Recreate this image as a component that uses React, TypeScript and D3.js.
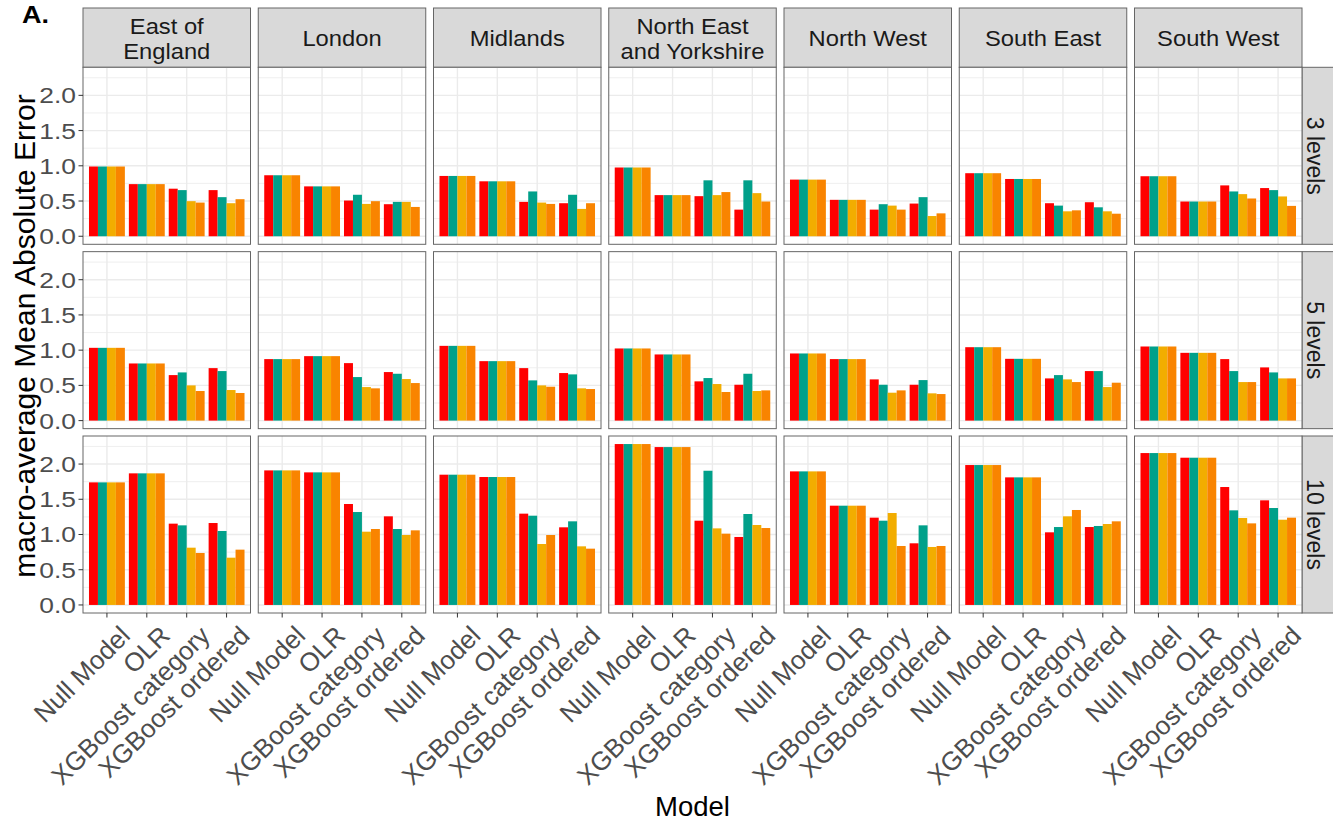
import React from "react";
import * as d3 from "d3";

// ---- data ----
const regions = [
  "East of England",
  "London",
  "Midlands",
  "North East and Yorkshire",
  "North West",
  "South East",
  "South West",
];
const regionStripLines = [
  ["East of", "England"],
  ["London"],
  ["Midlands"],
  ["North East", "and Yorkshire"],
  ["North West"],
  ["South East"],
  ["South West"],
];
const models = ["Null Model", "OLR", "XGBoost category", "XGBoost ordered"];
const levelLabels = ["3 levels", "5 levels", "10 levels"];
const seriesKeys = ["s1", "s2", "s3", "s4"];
const seriesColors = ["#FF0000", "#00A08A", "#F2AD00", "#F98400"];
const yTicks = [0, 0.5, 1.0, 1.5, 2.0];
const yMinorTicks = [0.25, 0.75, 1.25, 1.75, 2.25];

// values[region][model][series]
const levels3 = [
  [[0.99, 0.99, 0.99, 0.99], [0.74, 0.74, 0.74, 0.74], [0.675, 0.655, 0.498, 0.478], [0.655, 0.555, 0.469, 0.526]],
  [[0.866, 0.866, 0.866, 0.866], [0.708, 0.708, 0.708, 0.708], [0.507, 0.589, 0.459, 0.498], [0.455, 0.488, 0.488, 0.416]],
  [[0.856, 0.856, 0.856, 0.856], [0.78, 0.78, 0.78, 0.78], [0.488, 0.636, 0.478, 0.459], [0.469, 0.589, 0.388, 0.469]],
  [[0.976, 0.976, 0.976, 0.976], [0.584, 0.584, 0.584, 0.584], [0.569, 0.794, 0.584, 0.627], [0.378, 0.794, 0.612, 0.493]],
  [[0.804, 0.804, 0.804, 0.804], [0.517, 0.517, 0.517, 0.517], [0.378, 0.455, 0.435, 0.378], [0.464, 0.555, 0.287, 0.325]],
  [[0.895, 0.895, 0.895, 0.895], [0.813, 0.813, 0.813, 0.813], [0.469, 0.435, 0.354, 0.368], [0.483, 0.411, 0.354, 0.32]],
  [[0.852, 0.852, 0.852, 0.852], [0.493, 0.493, 0.493, 0.493], [0.722, 0.636, 0.598, 0.536], [0.684, 0.655, 0.565, 0.431]],
];
const levels5 = [
  [[1.033, 1.033, 1.033, 1.033], [0.811, 0.811, 0.811, 0.811], [0.646, 0.684, 0.5, 0.42], [0.745, 0.703, 0.434, 0.392]],
  [[0.873, 0.873, 0.873, 0.873], [0.915, 0.915, 0.915, 0.915], [0.816, 0.618, 0.476, 0.458], [0.689, 0.665, 0.59, 0.533]],
  [[1.061, 1.061, 1.061, 1.061], [0.844, 0.844, 0.844, 0.844], [0.745, 0.571, 0.5, 0.481], [0.675, 0.656, 0.458, 0.448]],
  [[1.024, 1.024, 1.024, 1.024], [0.939, 0.939, 0.939, 0.939], [0.557, 0.604, 0.519, 0.406], [0.509, 0.665, 0.42, 0.429]],
  [[0.953, 0.953, 0.953, 0.953], [0.873, 0.873, 0.873, 0.873], [0.585, 0.509, 0.396, 0.429], [0.509, 0.575, 0.387, 0.377]],
  [[1.042, 1.042, 1.042, 1.042], [0.877, 0.877, 0.877, 0.877], [0.599, 0.646, 0.585, 0.547], [0.703, 0.703, 0.476, 0.538]],
  [[1.052, 1.052, 1.052, 1.052], [0.962, 0.962, 0.962, 0.962], [0.873, 0.703, 0.547, 0.547], [0.755, 0.684, 0.599, 0.599]],
];
const levels10 = [
  [[1.74, 1.74, 1.74, 1.74], [1.868, 1.868, 1.868, 1.868], [1.154, 1.13, 0.813, 0.738], [1.163, 1.05, 0.671, 0.785]],
  [[1.91, 1.91, 1.91, 1.91], [1.882, 1.882, 1.882, 1.882], [1.433, 1.319, 1.04, 1.078], [1.258, 1.078, 0.993, 1.059]],
  [[1.849, 1.849, 1.849, 1.849], [1.816, 1.816, 1.816, 1.816], [1.296, 1.267, 0.865, 0.993], [1.102, 1.187, 0.832, 0.799]],
  [[2.284, 2.284, 2.284, 2.284], [2.241, 2.241, 2.241, 2.241], [1.196, 1.905, 1.087, 1.012], [0.965, 1.291, 1.135, 1.092]],
  [[1.896, 1.896, 1.896, 1.896], [1.409, 1.409, 1.409, 1.409], [1.239, 1.196, 1.305, 0.837], [0.875, 1.13, 0.823, 0.837]],
  [[1.986, 1.986, 1.986, 1.986], [1.811, 1.811, 1.811, 1.811], [1.031, 1.106, 1.258, 1.348], [1.106, 1.121, 1.149, 1.187]],
  [[2.156, 2.156, 2.156, 2.156], [2.09, 2.09, 2.09, 2.09], [1.674, 1.343, 1.234, 1.158], [1.485, 1.376, 1.21, 1.239]],
];
const levelData = [levels3, levels5, levels10];

// ---- layout ----
const W = 1333;
const H = 825;
const FONT = "'Liberation Sans', Arial, Helvetica, sans-serif";
const panelLeft0 = 83;
const panelPitchX = 175.25;
const panelW = 167.5;
const panelTop0 = 67.3;
const panelPitchY = 184.35;
const panelH = 177;
const stripTop = 8;
const stripRightW = 34;
const borderColor = "#666666";

export default function App() {
  const allVals = levelData.flat(3) as number[];
  const maxV = d3.max(allVals) as number;
  const y = d3
    .scaleLinear()
    .domain([-0.05 * maxV, 1.05 * maxV])
    .range([panelH, 0]);
  const x = d3
    .scaleBand<string>()
    .domain(models)
    .range([0, panelW])
    .paddingInner(0.1)
    .paddingOuter(0.15);
  const xs = d3.scaleBand<string>().domain(seriesKeys).range([0, x.bandwidth()]);
  const color = d3.scaleOrdinal<string, string>().domain(seriesKeys).range(seriesColors);

  const gridLast = panelTop0 + 2 * panelPitchY + panelH;
  const panelsRight = panelLeft0 + 6 * panelPitchX + panelW;

  return (
    <svg
      width={W}
      height={H}
      style={{ position: "absolute", left: 0, top: 0, background: "#fff" }}
      fontFamily={FONT}
    >
      <rect x={0} y={0} width={W} height={H} fill="#fff" />
      <text x={22} y={23} fontSize={24} fontWeight="bold" fill="#000" textLength={27} lengthAdjust="spacingAndGlyphs">
        A.
      </text>

      {/* column strips */}
      {regions.map((r, ci) => {
        const px = panelLeft0 + ci * panelPitchX;
        const lines = regionStripLines[ci];
        const baselines = lines.length === 2 ? [33.5, 58.7] : [46.3];
        return (
          <g key={r}>
            <rect
              x={px}
              y={stripTop}
              width={panelW}
              height={panelTop0 - stripTop}
              fill="#D9D9D9"
              stroke={borderColor}
              strokeWidth={1}
            />
            {lines.map((ln, li) => (
              <text
                key={li}
                transform={`translate(${px + panelW / 2},${baselines[li]}) scale(1.08,1)`}
                textAnchor="middle"
                fontSize={22}
                fill="#1A1A1A"
              >
                {ln}
              </text>
            ))}
          </g>
        );
      })}

      {/* row strips */}
      {levelLabels.map((lv, ri) => {
        const py = panelTop0 + ri * panelPitchY;
        return (
          <g key={lv}>
            <rect
              x={panelsRight}
              y={py}
              width={stripRightW}
              height={panelH}
              fill="#D9D9D9"
              stroke={borderColor}
              strokeWidth={1}
            />
            <text
              transform={`translate(${panelsRight + 5},${py + panelH / 2}) rotate(90)`}
              textAnchor="middle"
              fontSize={23}
              fill="#1A1A1A"
            >
              {lv}
            </text>
          </g>
        );
      })}

      {/* panels */}
      {levelData.map((lvl, ri) =>
        regions.map((r, ci) => {
          const px = panelLeft0 + ci * panelPitchX;
          const py = panelTop0 + ri * panelPitchY;
          const vals = lvl[ci];
          return (
            <g key={`${ri}-${ci}`} transform={`translate(${px},${py})`}>
              <rect x={0} y={0} width={panelW} height={panelH} fill="#fff" />
              {yMinorTicks.map((t) => (
                <line key={`m${t}`} x1={0} x2={panelW} y1={y(t)} y2={y(t)} stroke="#EBEBEB" strokeWidth={0.8} />
              ))}
              {yTicks.map((t) => (
                <line key={`M${t}`} x1={0} x2={panelW} y1={y(t)} y2={y(t)} stroke="#EBEBEB" strokeWidth={1.4} />
              ))}
              {models.map((m) => (
                <line
                  key={`v${m}`}
                  x1={(x(m) as number) + x.bandwidth() / 2}
                  x2={(x(m) as number) + x.bandwidth() / 2}
                  y1={0}
                  y2={panelH}
                  stroke="#EBEBEB"
                  strokeWidth={1.4}
                />
              ))}
              {models.map((m, mi) =>
                seriesKeys.map((s, si) => {
                  const v = vals[mi][si];
                  return (
                    <rect
                      key={`${m}-${s}`}
                      x={(x(m) as number) + (xs(s) as number)}
                      y={y(v)}
                      width={xs.bandwidth()}
                      height={y(0) - y(v)}
                      fill={color(s)}
                    />
                  );
                })
              )}
              <rect x={0} y={0} width={panelW} height={panelH} fill="none" stroke={borderColor} strokeWidth={1} />
            </g>
          );
        })
      )}

      {/* y axes */}
      {levelLabels.map((lv, ri) => {
        const py = panelTop0 + ri * panelPitchY;
        return (
          <g key={`ya${lv}`} transform={`translate(${panelLeft0},${py})`}>
            {yTicks.map((t) => (
              <g key={t}>
                <line x1={-4.5} x2={0} y1={y(t)} y2={y(t)} stroke="#333333" strokeWidth={1} />
                <text
                  transform={`translate(-7,${y(t)}) scale(1.2,1)`}
                  dy="0.36em"
                  textAnchor="end"
                  fontSize={22}
                  fill="#4D4D4D"
                >
                  {t.toFixed(1)}
                </text>
              </g>
            ))}
          </g>
        );
      })}

      {/* x axes */}
      {regions.map((r, ci) => {
        const px = panelLeft0 + ci * panelPitchX;
        return (
          <g key={`xa${r}`} transform={`translate(${px},${gridLast})`}>
            {models.map((m) => {
              const cx = (x(m) as number) + x.bandwidth() / 2;
              return (
                <g key={m}>
                  <line x1={cx} x2={cx} y1={0} y2={4.5} stroke="#333333" strokeWidth={1} />
                  <text
                    transform={`translate(${cx + 11.5},${11}) rotate(-45)`}
                    dy="0.72em"
                    textAnchor="end"
                    fontSize={26}
                    fill="#4D4D4D"
                  >
                    {m}
                  </text>
                </g>
              );
            })}
          </g>
        );
      })}

      {/* axis titles */}
      <text
        x={(panelLeft0 + panelsRight) / 2}
        y={816}
        textAnchor="middle"
        fontSize={27.5}
        fill="#000"
      >
        Model
      </text>
      <text
        transform={`translate(35,336) rotate(-90)`}
        textAnchor="middle"
        fontSize={30}
        fill="#000"
      >
        macro-average Mean Absolute Error
      </text>
    </svg>
  );
}
